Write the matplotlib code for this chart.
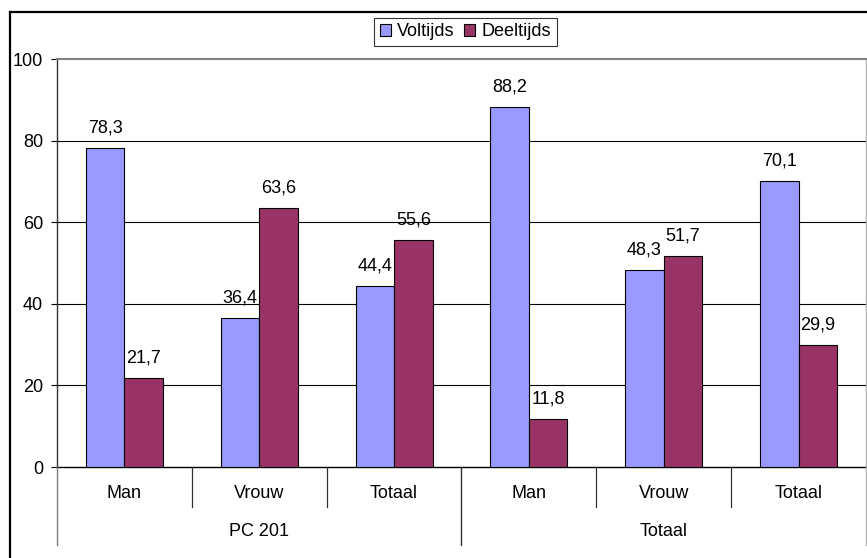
import matplotlib.pyplot as plt
from matplotlib.lines import Line2D
from matplotlib.patches import Patch
from matplotlib.transforms import blended_transform_factory
import numpy as np

plt.rcParams['font.family'] = ['Liberation Sans', 'DejaVu Sans']

groups = ["PC 201", "Totaal"]
categories = ["Man", "Vrouw", "Totaal", "Man", "Vrouw", "Totaal"]
voltijds = [78.3, 36.4, 44.4, 88.2, 48.3, 70.1]
deeltijds = [21.7, 63.6, 55.6, 11.8, 51.7, 29.9]
series_names = ["Voltijds", "Deeltijds"]
colors = ["#9999FF", "#993366"]

W, H = 867, 558
fig = plt.figure(figsize=(W / 100, H / 100), dpi=100)

# plot area in pixels: x 57..866, y 59..467
ax = fig.add_axes([57 / W, 1 - 467 / H, 809 / W, 408 / H])
ax.set_xlim(0, len(categories))
ax.set_ylim(0, 100)

fs = 13
bw = 1 / 3.5
x = np.arange(len(categories)) + 0.5
b1 = ax.bar(x - bw / 2, voltijds, bw, color=colors[0], edgecolor="black", linewidth=0.8, zorder=3)
b2 = ax.bar(x + bw / 2, deeltijds, bw, color=colors[1], edgecolor="black", linewidth=0.8, zorder=3)

for bars, vals in [(b1, voltijds), (b2, deeltijds)]:
    for r, v in zip(bars, vals):
        ax.annotate(f"{v:.1f}".replace(".", ","), (r.get_x() + r.get_width() / 2, v),
                    xytext=(0, 14.4), textcoords="offset points",
                    ha="center", va="center", fontsize=fs)

ax.set_yticks([0, 20, 40, 60, 80, 100])
ax.tick_params(axis="y", direction="out", length=4.3, width=0.8, pad=5.8, labelsize=fs, colors="black")
ax.set_xticks([])
ax.yaxis.grid(True, color="black", linewidth=0.8)
ax.set_axisbelow(True)
ax.get_ygridlines()[-1].set_visible(False)
ax.get_ygridlines()[0].set_visible(False)

ax.spines["left"].set_color("#333333")
ax.spines["left"].set_linewidth(1.0)
ax.spines["bottom"].set_color("black")
ax.spines["bottom"].set_linewidth(1.0)
ax.spines["top"].set_color("#808080")
ax.spines["top"].set_linewidth(1.5)
ax.spines["right"].set_color("#B0B0B0")
ax.spines["right"].set_linewidth(1.0)

# two-level category axis
tr = blended_transform_factory(ax.transData, fig.transFigure)
for xi, c in zip(x, categories):
    fig.text(xi, 1 - 493 / H, c, transform=tr, ha="center", va="center", fontsize=fs)
for gi, g in enumerate(groups):
    fig.text(gi * 3 + 1.5, 1 - 532 / H, g, transform=tr, ha="center", va="center", fontsize=fs)

y0 = 1 - 467 / H
for xb in [1, 2, 4, 5]:
    fig.add_artist(Line2D([xb, xb], [y0, 1 - 507 / H], transform=tr, color="#333333", lw=0.9))
for xb, col in [(0, "#808080"), (3, "#333333"), (6, "#B0B0B0")]:
    fig.add_artist(Line2D([xb, xb], [y0, 1 - 545 / H], transform=tr, color=col, lw=1.0))

# legend
handles = [Patch(facecolor=c, edgecolor="black", linewidth=0.8) for c in colors]
leg = fig.legend(handles, series_names, loc="center", bbox_to_anchor=(465.5 / W, 1 - 32 / H),
                 ncol=2, fontsize=fs, frameon=True, fancybox=False,
                 handlelength=0.6, handleheight=0.6, handletextpad=0.35,
                 columnspacing=0.55, borderpad=0.3, borderaxespad=0)
leg.get_frame().set_edgecolor("black")
leg.get_frame().set_linewidth(0.8)

# outer chart frame (right and bottom edges fall outside the image)
fig.add_artist(Line2D([10 / W, 10 / W], [1 - 12 / H, 0], transform=fig.transFigure, color="black", lw=1.6))
fig.add_artist(Line2D([10 / W, 1], [1 - 12 / H, 1 - 12 / H], transform=fig.transFigure, color="black", lw=1.6))

fig.savefig("out.png", dpi=100)
